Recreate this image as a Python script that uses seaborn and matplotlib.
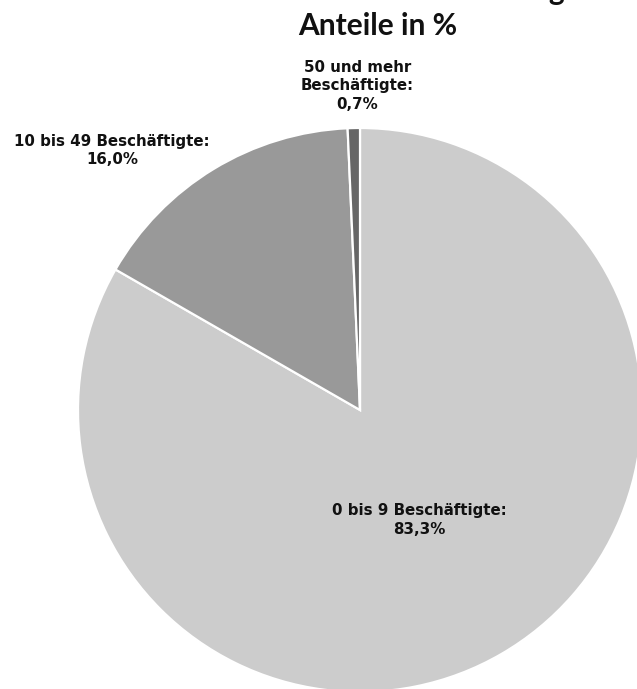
import matplotlib
matplotlib.use('Agg')
import matplotlib.pyplot as plt
import seaborn as sns

# data
groups = ['0 bis 9 Beschäftigte', '10 bis 49 Beschäftigte', '50 und mehr\nBeschäftigte']
shares = [83.3, 16.0, 0.7]
colors = ['#cccccc', '#999999', '#666666']

# label placement (data units, pie radius = 1)
label_pos = [(0.21, -0.39), (-0.88, 0.92), (-0.01, 1.15)]

sns.set_theme(style='white')
plt.rcParams['font.family'] = ['DejaVu Sans']

W, H = 637, 689
fig = plt.figure(figsize=(W / 100, H / 100), dpi=100)
ax = fig.add_axes([0, 0, 1, 1])

ax.pie(shares, colors=colors, startangle=90, counterclock=False,
       wedgeprops=dict(edgecolor='white', linewidth=1.6))

# pie centre at (360, 410) px, radius 282 px
r = 282
cx, cy = 360, 410
ax.set_xlim(-cx / r, (W - cx) / r)
ax.set_ylim(-(H - cy) / r, cy / r)
ax.set_aspect('auto')
ax.axis('off')

for name, val, (x, y) in zip(groups, shares, label_pos):
    txt = f'{name}:\n{val:.1f}%'.replace('.', ',')
    ax.text(x, y, txt, ha='center', va='center', fontsize=10.8,
            fontweight='bold', color='#111111', linespacing=1.3)

# first title line sits above the canvas, only its last descender shows
title_font = ['Lato', 'DejaVu Sans']
fig.text(565 / W, 1.0, 'Betriebe nach Größenklassen – Verteilung', ha='right', va='baseline',
         fontsize=21.5, fontweight='bold', color='#111111', family=title_font)
fig.text(378 / W, 1 - 35 / H, 'Anteile in %', ha='center', va='baseline',
         fontsize=21.5, fontweight='bold', color='#111111', family=title_font)

fig.savefig('out.png', dpi=100)
